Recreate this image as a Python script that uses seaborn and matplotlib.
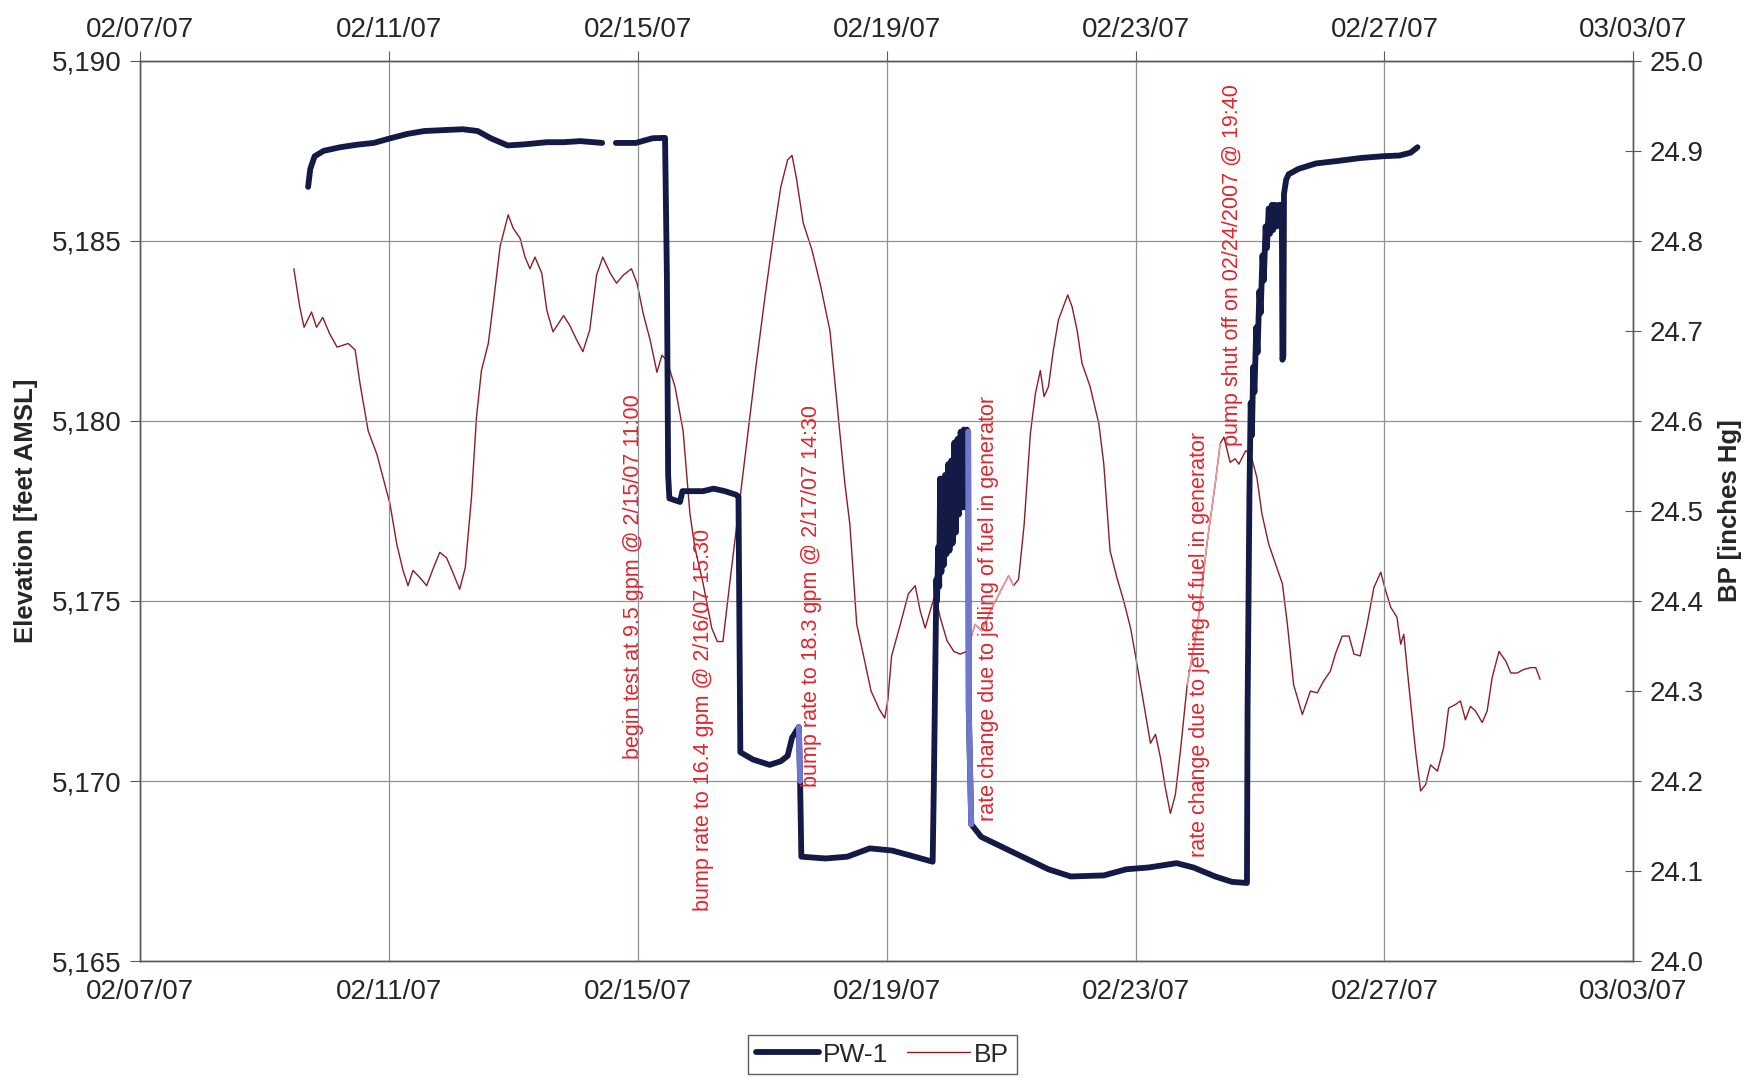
import numpy as np
import pandas as pd
import seaborn as sns
import matplotlib
matplotlib.use("Agg")
import matplotlib.pyplot as plt
import matplotlib.dates as mdates
from matplotlib.ticker import FuncFormatter, FixedLocator
from matplotlib.lines import Line2D

# time axis: days after 02/07/07 00:00
start = pd.Timestamp("2007-02-07")

# PW-1 water level elevation (ft AMSL), NaN = data gap
pw1_days = [2.705, 2.74, 2.81, 2.955, 3.22, 3.49, 3.76, 4.03, 4.30, 4.57, 4.93, 5.19, 5.43, 5.64,
            5.91, 6.18, 6.54, 6.81, 7.08, 7.43, 7.50,
            7.65, 7.97, 8.24, 8.44, 8.47, 8.49, 8.51, 8.68, 8.72, 8.78, 9.05, 9.22, 9.40, 9.58,
            9.62, 9.65, 9.85, 10.12, 10.30, 10.41, 10.48, 10.59, 10.61, 10.63, 11.02, 11.37,
            11.73, 12.09, 12.45, 12.74,
            12.76, 12.80, 12.81, 12.83, 12.845, 12.86, 12.88, 12.90, 12.92, 12.94, 12.96, 12.99,
            13.01, 13.04, 13.06, 13.09, 13.11, 13.14, 13.16, 13.19, 13.21, 13.24, 13.26, 13.29,
            13.31, 13.32, 13.36, 13.52, 13.88, 14.24, 14.60, 14.96, 15.49, 15.85, 16.21, 16.66,
            16.93, 17.28, 17.55, 17.79,
            17.80, 17.83, 17.85, 17.87, 17.89, 17.91, 17.94, 17.96, 17.99, 18.01, 18.04, 18.06,
            18.09, 18.11, 18.14, 18.16, 18.19, 18.21, 18.24, 18.27, 18.30, 18.33, 18.35, 18.36,
            18.375, 18.385, 18.42, 18.46, 18.62, 18.90, 19.25, 19.61, 19.97, 20.24, 20.42, 20.53]
pw1_elev = [5186.5, 5187.0, 5187.35, 5187.5, 5187.6, 5187.67, 5187.72, 5187.85, 5187.97, 5188.05,
            5188.08, 5188.1, 5188.05, 5187.85, 5187.65, 5187.68, 5187.74, 5187.74, 5187.77,
            5187.72, np.nan,
            5187.72, 5187.72, 5187.85, 5187.86, 5184.0, 5178.5, 5177.85, 5177.75, 5178.05,
            5178.05, 5178.05, 5178.12, 5178.05, 5177.95, 5177.9, 5170.8, 5170.6, 5170.45,
            5170.55, 5170.7, 5171.2, 5171.5, 5170.0, 5167.9, 5167.85, 5167.9, 5168.13, 5168.07,
            5167.9, 5167.76,
            5170.0, 5175.6, 5175.0, 5176.5, 5175.4, 5178.4, 5175.8, 5178.4, 5176.0, 5178.5,
            5176.3, 5178.8, 5176.4, 5178.9, 5176.6, 5179.4, 5176.9, 5179.5, 5177.4, 5179.7,
            5177.6, 5179.76, 5177.6, 5179.76, 5179.7, 5172.0, 5168.8, 5168.45, 5168.15, 5167.85,
            5167.55, 5167.35, 5167.38, 5167.55, 5167.6, 5167.72, 5167.6, 5167.35, 5167.2,
            5167.17,
            5172.0, 5178.0, 5180.5, 5179.6, 5181.5, 5180.8, 5182.6, 5181.9, 5183.6, 5183.0,
            5184.6, 5183.9, 5185.4, 5184.8, 5185.9, 5185.2, 5186.0, 5185.3, 5186.0, 5185.4,
            5186.0, 5185.5, 5186.0, 5181.7, 5181.8, 5186.3, 5186.7, 5186.85, 5187.0, 5187.15,
            5187.22, 5187.3, 5187.35, 5187.37, 5187.45, 5187.6]

# barometric pressure (inches Hg)
bp_days = [2.476, 2.57, 2.64, 2.76, 2.84, 2.94, 3.05, 3.17, 3.35, 3.46, 3.54, 3.67, 3.81, 4.02,
           4.13, 4.23, 4.31, 4.39, 4.50, 4.61, 4.72, 4.82, 4.93, 5.04, 5.14, 5.23, 5.33, 5.41,
           5.49, 5.60, 5.68, 5.79, 5.92, 6.00, 6.11, 6.19, 6.27, 6.35, 6.46, 6.54, 6.64, 6.81,
           6.91, 7.02, 7.12, 7.23, 7.34, 7.44, 7.56, 7.66, 7.77, 7.90, 7.99, 8.09, 8.20, 8.31,
           8.39, 8.47, 8.60, 8.73, 8.84, 8.92,
           9.05, 9.19, 9.28, 9.37, 9.48, 9.62, 9.76, 9.90, 10.05, 10.19, 10.30, 10.41, 10.48,
           10.55, 10.66, 10.80, 10.94, 11.09, 11.23, 11.33, 11.41, 11.52, 11.63, 11.75, 11.88,
           11.97, 12.02, 12.08,
           12.22, 12.35, 12.46, 12.54, 12.62, 12.70, 12.78, 12.86, 12.97, 13.08, 13.18, 13.29,
           13.42, 13.53, 13.67, 13.83, 13.96, 14.04, 14.12, 14.21, 14.31, 14.39, 14.47, 14.53,
           14.60, 14.68, 14.76, 14.84, 14.91, 14.98, 15.06, 15.14, 15.27, 15.41, 15.49, 15.59,
           15.70, 15.81, 15.92, 16.00,
           16.24, 16.32, 16.40, 16.48, 16.56, 16.64, 16.72, 16.83, 16.99, 17.15, 17.28, 17.36,
           17.42, 17.52, 17.60, 17.66, 17.77, 17.85, 17.95, 18.03, 18.14, 18.25, 18.36, 18.44,
           18.54, 18.68, 18.81, 18.92, 19.02, 19.13, 19.21, 19.32, 19.43, 19.51, 19.61, 19.72,
           19.83, 19.94, 20.02, 20.10, 20.20, 20.26, 20.31, 20.39, 20.50, 20.58, 20.66, 20.74,
           20.85, 20.95, 21.03, 21.14, 21.22, 21.30, 21.38, 21.46, 21.57, 21.65, 21.73, 21.84,
           21.95, 22.03, 22.13, 22.24, 22.35, 22.43, 22.50]
bp_vals = [24.769, 24.727, 24.704, 24.721, 24.704, 24.715, 24.697, 24.682, 24.686, 24.679, 24.641,
           24.589, 24.563, 24.508, 24.463, 24.434, 24.417, 24.434, 24.426, 24.417, 24.437,
           24.454, 24.448, 24.430, 24.413, 24.437, 24.515, 24.604, 24.656, 24.686, 24.730,
           24.794, 24.829, 24.814, 24.803, 24.782, 24.769, 24.782, 24.764, 24.723, 24.699,
           24.717, 24.706, 24.690, 24.677, 24.701, 24.762, 24.782, 24.764, 24.753, 24.762,
           24.769, 24.753, 24.719, 24.690, 24.654, 24.673, 24.667, 24.638, 24.589, 24.497,
           24.459,
           24.42, 24.37, 24.355, 24.355, 24.42, 24.50, 24.58, 24.66, 24.74, 24.81, 24.86, 24.89,
           24.895, 24.87, 24.82, 24.79, 24.75, 24.70, 24.60, 24.53, 24.485, 24.374, 24.339,
           24.30, 24.28, 24.27, 24.29, 24.339,
           24.374, 24.408, 24.417, 24.389, 24.370, 24.389, 24.408, 24.382, 24.356, 24.344,
           24.341, 24.344, 24.374, 24.367, 24.389, 24.411, 24.428, 24.417, 24.424, 24.485,
           24.586, 24.630, 24.656, 24.627, 24.638, 24.679, 24.712, 24.727, 24.740, 24.727,
           24.701, 24.664, 24.638, 24.597, 24.552, 24.456, 24.426, 24.400, 24.370, 24.339,
           24.242, 24.252, 24.226, 24.192, 24.164, 24.185, 24.233, 24.307, 24.370, 24.465,
           24.530, 24.575, 24.582, 24.554, 24.558, 24.552, 24.567, 24.563, 24.537, 24.497,
           24.463, 24.441, 24.419, 24.374, 24.307, 24.274, 24.300, 24.298, 24.311, 24.322,
           24.341, 24.361, 24.361, 24.341, 24.339, 24.374, 24.415, 24.432, 24.411, 24.393,
           24.382, 24.352, 24.363, 24.307, 24.233, 24.189, 24.196, 24.218, 24.211, 24.237,
           24.281, 24.285, 24.289, 24.268, 24.283, 24.278, 24.265, 24.278, 24.315, 24.344,
           24.333, 24.320, 24.320, 24.324, 24.326, 24.326, 24.313]

# pumping-test notes: (day, elevation at text base, text)
note_days = [7.93, 9.06, 10.80, 13.63, 17.02, 17.55]
note_elev = [5170.6, 5166.4, 5169.84, 5168.9, 5167.9, 5179.3]
note_text = ["begin test at 9.5 gpm @ 2/15/07 11:00",
             "bump rate to 16.4 gpm @ 2/16/07 15:30",
             "bump rate to 18.3 gpm @ 2/17/07 14:30",
             "rate change due to jelling of fuel in generator",
             "rate change due to jelling of fuel in generator",
             "pump shut off on 02/24/2007 @ 19:40"]

# stretches that print lighter in the original
pw1_light_spans = [(10.58, 10.62), (13.30, 13.37)]
bp_light_spans = [(13.29, 14.05), (16.80, 17.37)]

sns.set_style("white")
plt.rcParams["font.family"] = ["Liberation Sans", "DejaVu Sans"]

pw = pd.DataFrame({"date": start + pd.to_timedelta(pw1_days, unit="D"), "elev": pw1_elev})
pw["seg"] = pw["elev"].isna().cumsum()
pw = pw.dropna()
bp = pd.DataFrame({"date": start + pd.to_timedelta(bp_days, unit="D"), "bp": bp_vals})


def span(df, a, b):
    return df[(df["date"] >= start + pd.Timedelta(days=a)) & (df["date"] <= start + pd.Timedelta(days=b))]


navy = "#131a46"
bp_col = "#8b1e24"
fig, ax = plt.subplots(figsize=(17.47, 10.86), dpi=100)
fig.subplots_adjust(left=0.080, right=0.935, top=0.944, bottom=0.115)
ax2 = ax.twinx()

sns.lineplot(data=bp, x="date", y="bp", ax=ax2, color=bp_col, lw=1.0, estimator=None)
for a, b in bp_light_spans:
    sub = span(bp, a, b)
    ax2.plot(sub["date"], sub["bp"], color="#ee9aa2", lw=1.1, zorder=3)
sns.lineplot(data=pw, x="date", y="elev", units="seg", estimator=None, ax=ax,
             color=navy, lw=4.2, solid_capstyle="round")
for a, b in pw1_light_spans:
    sub = span(pw, a, b)
    ax.plot(sub["date"], sub["elev"], color="#6f78cc", lw=4.2, zorder=3)

ax.set_zorder(ax2.get_zorder() + 1)
ax.patch.set_visible(False)

xmin, xmax = pd.Timestamp("2007-02-07"), pd.Timestamp("2007-03-03")
ax.set_xlim(xmin, xmax)
ticks = mdates.date2num(pd.date_range(xmin, xmax, freq="4D"))
ax.xaxis.set_major_locator(FixedLocator(ticks))
ax.xaxis.set_major_formatter(mdates.DateFormatter("%m/%d/%y"))
ax.set_ylim(5165, 5190)
ax.set_yticks(np.arange(5165, 5191, 5))
ax.yaxis.set_major_formatter(FuncFormatter(lambda v, p: f"{v:,.0f}"))
ax2.set_ylim(24.0, 25.0)
ax2.set_yticks(np.arange(24.0, 25.01, 0.1))
ax2.yaxis.set_major_formatter(FuncFormatter(lambda v, p: f"{v:.1f}"))

ax.grid(True, color="#8c919c", lw=0.9)
ax.tick_params(axis="both", labelsize=20, direction="out", length=7, color="#555a66",
               top=True, labeltop=True, pad=6)
ax2.tick_params(axis="y", labelsize=20, direction="inout", length=12, color="#555a66", pad=6)
for a_ in (ax, ax2):
    for s in a_.spines.values():
        s.set_color("#555a66")
        s.set_linewidth(1.0)

ax.set_xlabel("")
ax.set_ylabel("Elevation [feet AMSL]", fontsize=18.5, fontweight="bold", labelpad=10)
ax2.set_ylabel("BP [inches Hg]", fontsize=18.5, fontweight="bold", labelpad=10)

for d, e, t in zip(note_days, note_elev, note_text):
    ax.text(start + pd.Timedelta(days=d), e, t, rotation=90, ha="center", va="bottom",
            color="#e0262c", fontsize=15.5, zorder=5)

handles = [Line2D([], [], color=navy, lw=4.2), Line2D([], [], color=bp_col, lw=1.0)]
leg = fig.legend(handles, ["PW-1", "BP"], loc="center", bbox_to_anchor=(0.505, 0.029), ncol=2,
                 fontsize=19, frameon=True, fancybox=False, handlelength=2.4,
                 columnspacing=0.7, handletextpad=0.15, borderpad=0.3, borderaxespad=0)
leg.get_frame().set_edgecolor("#333333")
leg.get_frame().set_linewidth(1.0)

fig.savefig("out.png", dpi=100)
